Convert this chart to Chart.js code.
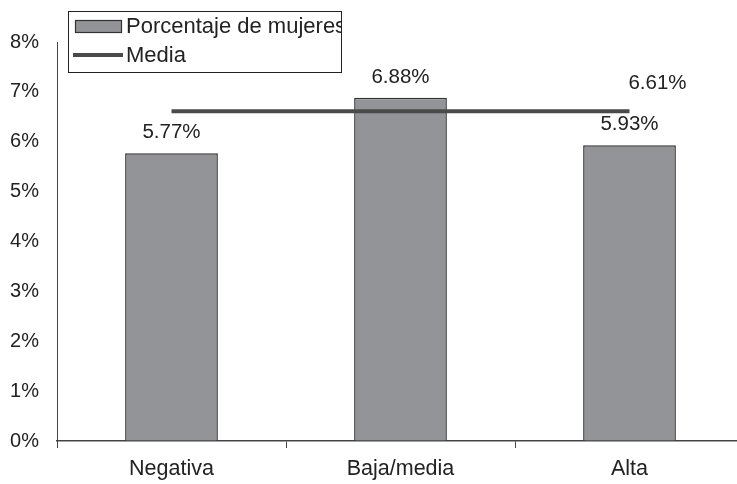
<!DOCTYPE html>
<html>
<head>
<meta charset="utf-8">
<script src="https://cdn.jsdelivr.net/npm/chart.js@4/dist/chart.umd.min.js"></script>
<style>
  html, body { margin: 0; padding: 0; background: #fff; overflow: hidden; }
  #wrap { width: 737px; height: 484px; overflow: hidden; }
</style>
</head>
<body>
<div id="wrap"><canvas id="chart" width="760" height="484"></canvas></div>
<script>
'use strict';

const categories = ['Negativa', 'Baja/media', 'Alta'];
const womenShare = [5.77, 6.88, 5.93];
const meanValue = [6.61, 6.61, 6.61];
const yTicks = [0, 1, 2, 3, 4, 5, 6, 7, 8];

const barColor = '#939498';
const lineColor = '#4a4a4a';
const textColor = '#222';
const font = 'Liberation Sans, Arial, sans-serif';

// value labels above bars + last point of the mean line
const labelPlugin = {
  id: 'labels',
  afterDatasetsDraw(chart) {
    const ctx = chart.ctx;
    ctx.save();
    ctx.font = '20.5px ' + font;
    ctx.fillStyle = textColor;
    ctx.textAlign = 'center';
    ctx.textBaseline = 'middle';
    const bars = chart.getDatasetMeta(0).data;
    bars.forEach((bar, i) => {
      ctx.fillText(womenShare[i].toFixed(2) + '%', bar.x, bar.y - 21);
    });
    const pts = chart.getDatasetMeta(1).data;
    const last = pts[pts.length - 1];
    ctx.fillText(meanValue[meanValue.length - 1].toFixed(2) + '%', last.x + 28, last.y - 28);
    ctx.restore();
  }
};

// boxed legend at top-left, text clipped by the box like the original
const legendPlugin = {
  id: 'boxLegend',
  afterDraw(chart) {
    const ctx = chart.ctx;
    const bx = 68, by = 11, bw = 273, bh = 61;
    ctx.save();
    ctx.fillStyle = '#fff';
    ctx.fillRect(bx, by, bw, bh);
    ctx.strokeStyle = '#222';
    ctx.lineWidth = 1;
    ctx.strokeRect(bx + 0.5, by + 0.5, bw, bh);
    ctx.beginPath();
    ctx.rect(bx, by, bw, bh);
    ctx.clip();
    ctx.fillStyle = barColor;
    ctx.fillRect(75, 20, 47, 13);
    ctx.strokeStyle = '#333';
    ctx.lineWidth = 1.2;
    ctx.strokeRect(75.5, 20.5, 46, 12);
    ctx.strokeStyle = lineColor;
    ctx.lineWidth = 4;
    ctx.beginPath();
    ctx.moveTo(73, 55);
    ctx.lineTo(123, 55);
    ctx.stroke();
    ctx.fillStyle = textColor;
    ctx.font = '22px ' + font;
    ctx.textAlign = 'left';
    ctx.textBaseline = 'middle';
    ctx.fillText(chart.data.datasets[0].label, 126, 27);
    ctx.fillText(chart.data.datasets[1].label, 126, 56);
    ctx.restore();
  }
};

const data = {
  labels: categories,
  datasets: [
    {
      type: 'bar',
      label: 'Porcentaje de mujeres',
      data: womenShare,
      backgroundColor: barColor,
      borderColor: '#333',
      borderWidth: 1.5,
      barPercentage: 0.405,
      categoryPercentage: 1,
      order: 1
    },
    {
      type: 'line',
      label: 'Media',
      data: meanValue,
      borderColor: lineColor,
      borderWidth: 4,
      pointRadius: 0,
      fill: false,
      order: 0
    }
  ]
};

const config = {
  type: 'bar',
  data: data,
  options: {
    responsive: false,
    animation: false,
    devicePixelRatio: 1,
    layout: { padding: { top: 42, right: 16, left: 0, bottom: 0 } },
    plugins: {
      legend: { display: false },
      tooltip: { enabled: false }
    },
    scales: {
      x: {
        grid: { offset: true, drawOnChartArea: false, drawTicks: true, tickLength: 7, color: '#444', lineWidth: 1 },
        border: { display: true, color: '#444', width: 1.5 },
        ticks: { color: textColor, font: { family: font, size: 21.5 }, padding: 8 },
        afterFit(scale) { scale.height = 43; }
      },
      y: {
        min: 0,
        max: 8,
        afterBuildTicks(scale) { scale.ticks = yTicks.map(v => ({ value: v })); },
        grid: { drawOnChartArea: false, drawTicks: false },
        border: { display: true, color: '#444', width: 1 },
        ticks: {
          color: textColor,
          font: { family: font, size: 20 },
          padding: 18,
          callback: v => v + '%'
        },
        afterFit(scale) { scale.width = 57; }
      }
    }
  },
  plugins: [labelPlugin, legendPlugin]
};

const myChart = new Chart(document.getElementById('chart'), config);
</script>
</body>
</html>
